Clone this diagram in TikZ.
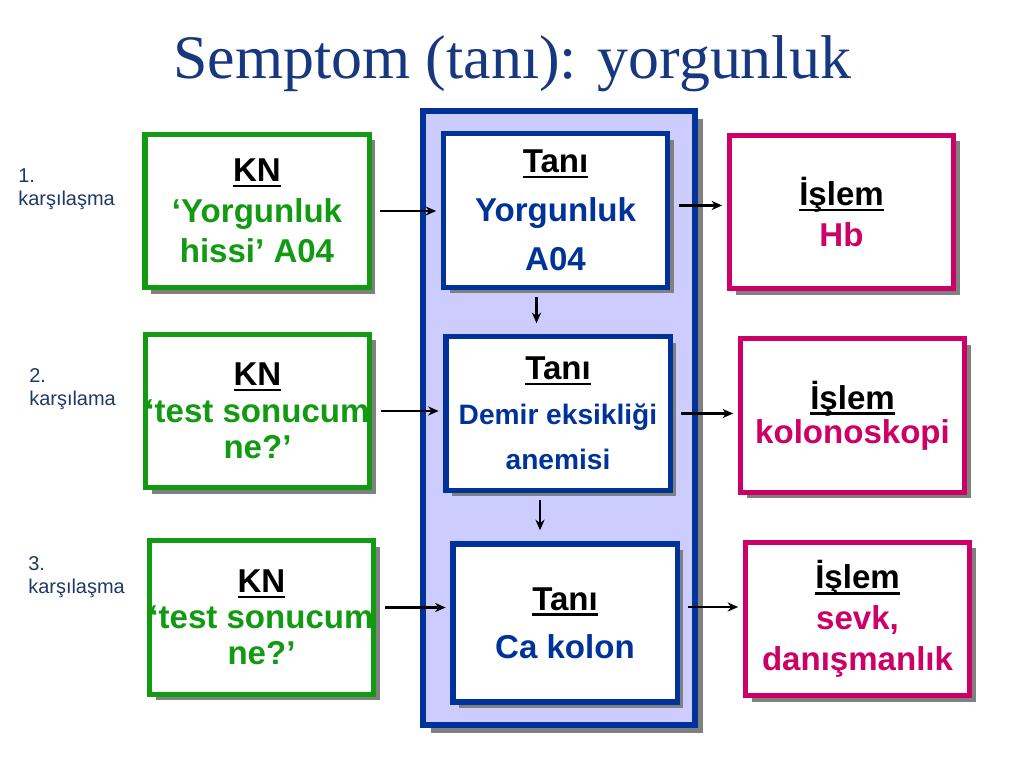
\documentclass[tikz,border=0pt]{standalone}
\usepackage{fontspec}
\setmainfont{Liberation Serif}
\setsansfont{Liberation Sans}
\usetikzlibrary{calc,shadows,arrows.meta}

\definecolor{kngreen}{HTML}{129A12}
\definecolor{tanblue}{HTML}{003399}
\definecolor{islpink}{HTML}{CC0066}
\definecolor{panelfill}{HTML}{CCCCFF}
\definecolor{titleblue}{HTML}{17377F}
\definecolor{labelblue}{HTML}{1F3864}

\newcommand{\boxhead}[1]{\textcolor{black}{\setbox0\hbox{#1}\rlap{\rule[-4pt]{\wd0}{1.8pt}}\box0}}

\tikzset{
  boxbase/.style={draw, line width=3.6pt, fill=white, minimum width=5.6cm,
    minimum height=3.83cm, align=center, inner sep=0pt,
    font=\sffamily\bfseries\fontsize{23.5}{29}\selectfont,
    drop shadow={shadow xshift=4.3pt, shadow yshift=-4.3pt, fill=gray, opacity=1}},
  knbox/.style={boxbase, draw=kngreen, text=kngreen},
  tanbox/.style={boxbase, draw=tanblue, text=tanblue},
  islbox/.style={boxbase, draw=islpink, text=islpink},
  sidelabel/.style={anchor=north west, inner sep=0pt, align=left, text=labelblue,
    font=\sffamily\fontsize{14.2}{16.4}\selectfont},
  arr/.style={-{Stealth[length=7.5pt,width=6.5pt]}, line width=1.6pt},
  harr/.style={arr, shorten <=0.22cm, shorten >=0.12cm},
  varr/.style={arr, shorten <=0.18cm, shorten >=0.28cm}
}

\begin{document}
\begin{tikzpicture}[x=0.025cm, y=-0.025cm]
\useasboundingbox (0,0) rectangle (1024,768);

% title
\node (title) [anchor=base, text=titleblue, font=\fontsize{44}{50}\selectfont] at (512,79) {Semptom (tanı): yorgunluk};

% diagnosis panel
\node (panel) [draw=tanblue, line width=4.3pt, fill=panelfill, minimum width=6.8cm,
  minimum height=15.35cm, drop shadow={shadow xshift=5.7pt, shadow yshift=-5.7pt, fill=gray, opacity=1}] at (559,418) {};

% encounters
\node (lab1) [sidelabel] at (18,168) {1.\\karşılaşma};
\node (lab2) [sidelabel] at (29,368) {2.\\karşılama};
\node (lab3) [sidelabel] at (28,556) {3.\\karşılaşma};

% KN boxes
\node (kn1) [knbox] at (257,211) {\boxhead{KN}\\‘Yorgunluk\\hissi’ A04};
\node (kn2) [knbox, font=\sffamily\bfseries\fontsize{23.5}{26}\selectfont] at (257.5,411) {\boxhead{KN}\\‘test sonucum\\ne?’};
\node (kn3) [knbox, font=\sffamily\bfseries\fontsize{23.5}{25.5}\selectfont] at (261.5,617.5) {\boxhead{KN}\\‘test sonucum\\ne?’};

% Tanı boxes
\node (tani1) [tanbox, font=\sffamily\bfseries\fontsize{23.5}{35}\selectfont] at (555.5,210.5) {\boxhead{Tanı}\\Yorgunluk\\A04};
\node (tani2) [tanbox, font=\sffamily\bfseries\fontsize{20}{32}\selectfont] at (558,413.5) {{\fontsize{23.5}{32}\selectfont\boxhead{Tanı}}\\Demir eksikliği\\anemisi};
\node (tani3) [tanbox, minimum height=3.95cm, font=\sffamily\bfseries\fontsize{23.5}{34}\selectfont] at (565,623) {\boxhead{Tanı}\\Ca kolon};

% İşlem boxes
\node (isl1) [islbox] at (841.5,212) {\boxhead{İşlem}\\Hb};
\node (isl2) [islbox, font=\sffamily\bfseries\fontsize{23.5}{24.5}\selectfont] at (852.5,415.5) {\boxhead{İşlem}\\kolonoskopi};
\node (isl3) [islbox] at (857.5,619) {\boxhead{İşlem}\\sevk,\\danışmanlık};

% arrows
\draw[harr] (kn1.east) -- (tani1.west |- kn1.east);
\draw[harr] (kn2.east) -- (tani2.west |- kn2.east);
\draw[harr] ($(kn3.east)+(0,-10)$) -- ($(tani3.west |- kn3.east)+(0,-10)$);
\draw[harr] ($(tani1.east)+(0,-5)$) -- ($(isl1.west |- tani1.east)+(0,-5)$);
\draw[harr] (tani2.east) -- (isl2.west |- tani2.east);
\draw[harr] ($(tani3.east)+(0,-16)$) -- ($(isl3.west |- tani3.east)+(0,-16)$);

\coordinate (v1) at ($(tani1.south)+(-19,0)$);
\coordinate (v2) at ($(tani2.south)+(-18,0)$);
\draw[varr] (v1) -- (v1 |- tani2.north);
\draw[varr] (v2) -- (v2 |- tani3.north);
\end{tikzpicture}
\end{document}
